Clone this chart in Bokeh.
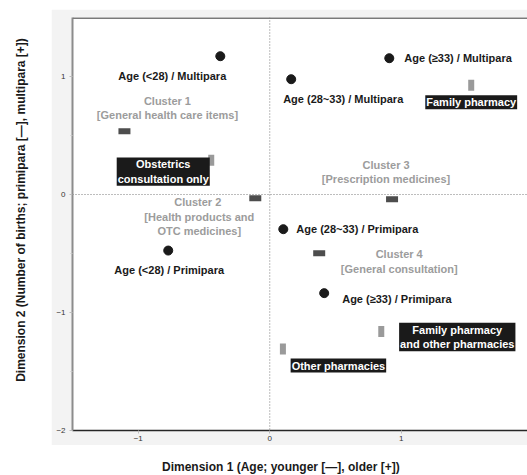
from bokeh.plotting import figure
from bokeh.layouts import row, column
from bokeh.models import Label, Span, FixedTicker, Spacer
from bokeh.embed import file_html
from bokeh.resources import INLINE

# ---- data ----
group_names = ["Age (<28) / Multipara", "Age (28~33) / Multipara", "Age (≥33) / Multipara",
               "Age (<28) / Primipara", "Age (28~33) / Primipara", "Age (≥33) / Primipara"]
group_x = [-0.376, 0.163, 0.909, -0.772, 0.103, 0.414]
group_y = [1.172, 0.977, 1.155, -0.475, -0.294, -0.836]

cluster_names = ["Cluster 1\n[General health care items]",
                 "Cluster  2\n[Health products and\nOTC medicines]",
                 "Cluster 3\n[Prescription medicines]",
                 "Cluster 4\n[General consultation]"]
cluster_x = [-1.105, -0.11, 0.93, 0.376]
cluster_y = [0.536, -0.031, -0.04, -0.497]

pharmacy_names = ["Obstetrics\nconsultation only", "Family pharmacy",
                  "Family pharmacy\nand other pharmacies", "Other pharmacies"]
pharmacy_x = [-0.445, 1.532, 0.848, 0.10]
pharmacy_y = [0.291, 0.926, -1.161, -1.31]

x_ticks = [-1, 0, 1]
y_ticks = [-2, -1, 0, 1]
y_minor = [-1.5, -0.5, 0.5]
y_top = 1.5

x_title = "Dimension 1 (Age;  younger [—], older [+])"
y_title = "Dimension 2 (Number of births; primipara [—], multipara [+])"

# ---- label placement (pixels, screen: +dy = down) ----
group_dx = [-48, 52, 15, 1, 13, 18]
group_dy = [20, 20, 0, 19, 0, 6]
group_align = ["center", "center", "left", "center", "left", "left"]
cluster_dx = [43, -56, -6, 80]
cluster_dy = [-23.5, 18.5, -27.5, 8.5]
pharm_dx = [-48, 0, 76, 55.5]
pharm_dy = [11.5, 17, 5.5, 16.5]

FONT = "Liberation Sans"
GRAY_BG = "#f3f3f3"

# ---- main chart panel (gray surround) ----
p = figure(width=476, height=436, x_range=(-1.5, 1.96), y_range=(-2, y_top),
           output_backend="svg", toolbar_location=None,
           min_border_left=21, min_border_right=0, min_border_top=8, min_border_bottom=15,
           border_fill_color=GRAY_BG, background_fill_color="white")
p.grid.visible = False
p.outline_line_color = None

p.xaxis.ticker = FixedTicker(ticks=x_ticks)
p.yaxis.ticker = FixedTicker(ticks=y_ticks, minor_ticks=y_minor)
for ax in (p.xaxis, p.yaxis):
    ax.major_tick_in = 0
    ax.major_tick_out = 3
    ax.minor_tick_in = 0
    ax.minor_tick_out = 2
    ax.major_tick_line_color = "#bdbdbd"
    ax.minor_tick_line_color = "#c8c8c8"
    ax.major_label_text_font = FONT
    ax.major_label_text_font_size = "8px"
    ax.major_label_text_color = "#333333"
p.xaxis.major_label_standoff = 2
p.yaxis.major_label_standoff = 4
p.xaxis.minor_tick_line_color = None
p.xaxis.axis_line_color = "#262626"
p.xaxis.axis_line_width = 1.5
p.yaxis.axis_line_color = "#8c8c8c"
p.yaxis.axis_line_width = 2

# top border of the plotting area (right side is cut off in the reference)
p.add_layout(Span(location=y_top, dimension="width", line_color="#7a7a7a", line_width=3))

# reference lines
p.add_layout(Span(location=0, dimension="height", line_color="#7a7a7a", line_width=1, line_dash="1 2"))
p.add_layout(Span(location=0, dimension="width", line_color="#7a7a7a", line_width=1, line_dash="1 2"))

# markers
p.rect(x=cluster_x, y=cluster_y, width=12, height=6, width_units="screen", height_units="screen",
       fill_color="#4d4d4d", line_color=None)
p.rect(x=pharmacy_x, y=pharmacy_y, width=6, height=11, width_units="screen", height_units="screen",
       fill_color="#9a9a9a", line_color=None)
p.scatter(x=group_x, y=group_y, size=9, fill_color="#1a1a1a", line_color="#1a1a1a")

# labels
for name, x, y, dx, dy, al in zip(group_names, group_x, group_y, group_dx, group_dy, group_align):
    p.add_layout(Label(x=x, y=y, x_offset=dx, y_offset=-dy, text=name, text_align=al,
                       text_baseline="middle", text_font=FONT, text_font_style="bold",
                       text_font_size="11px", text_color="#1a1a1a"))
for name, x, y, dx, dy in zip(cluster_names, cluster_x, cluster_y, cluster_dx, cluster_dy):
    p.add_layout(Label(x=x, y=y, x_offset=dx, y_offset=-dy, text=name, text_align="center",
                       text_baseline="middle", text_font=FONT, text_font_style="bold",
                       text_font_size="11px", text_color="#9c9c9c"))
for name, x, y, dx, dy in zip(pharmacy_names, pharmacy_x, pharmacy_y, pharm_dx, pharm_dy):
    p.add_layout(Label(x=x, y=y, x_offset=dx, y_offset=-dy, text=name, text_align="center",
                       text_baseline="middle", text_font=FONT, text_font_style="bold",
                       text_font_size="11px", text_color="white",
                       background_fill_color="#1a1a1a", background_fill_alpha=1.0, padding=1))


# ---- axis title strips (white page area) ----
def title_fig(w, h):
    f = figure(width=w, height=h, x_range=(0, w), y_range=(h, 0),
               output_backend="svg", toolbar_location=None, min_border=0,
               x_axis_location=None, y_axis_location=None, outline_line_color=None,
               border_fill_color="white", background_fill_color="white")
    f.grid.visible = False
    return f


left = title_fig(51, 445)
left.add_layout(Label(x=20, y=209.5, angle=90, angle_units="deg", text=y_title,
                      text_align="center", text_baseline="middle", text_font=FONT,
                      text_font_style="bold", text_font_size="12px", text_color="#1a1a1a"))
bottom = title_fig(527, 30)
bottom.add_layout(Label(x=282, y=21, text=x_title, text_align="center", text_baseline="middle",
                        text_font=FONT, text_font_style="bold", text_font_size="12px",
                        text_color="#1a1a1a"))

layout = column(row(left, column(Spacer(width=476, height=9), p)), bottom)

open("out.html", "w").write(file_html(layout, INLINE))
